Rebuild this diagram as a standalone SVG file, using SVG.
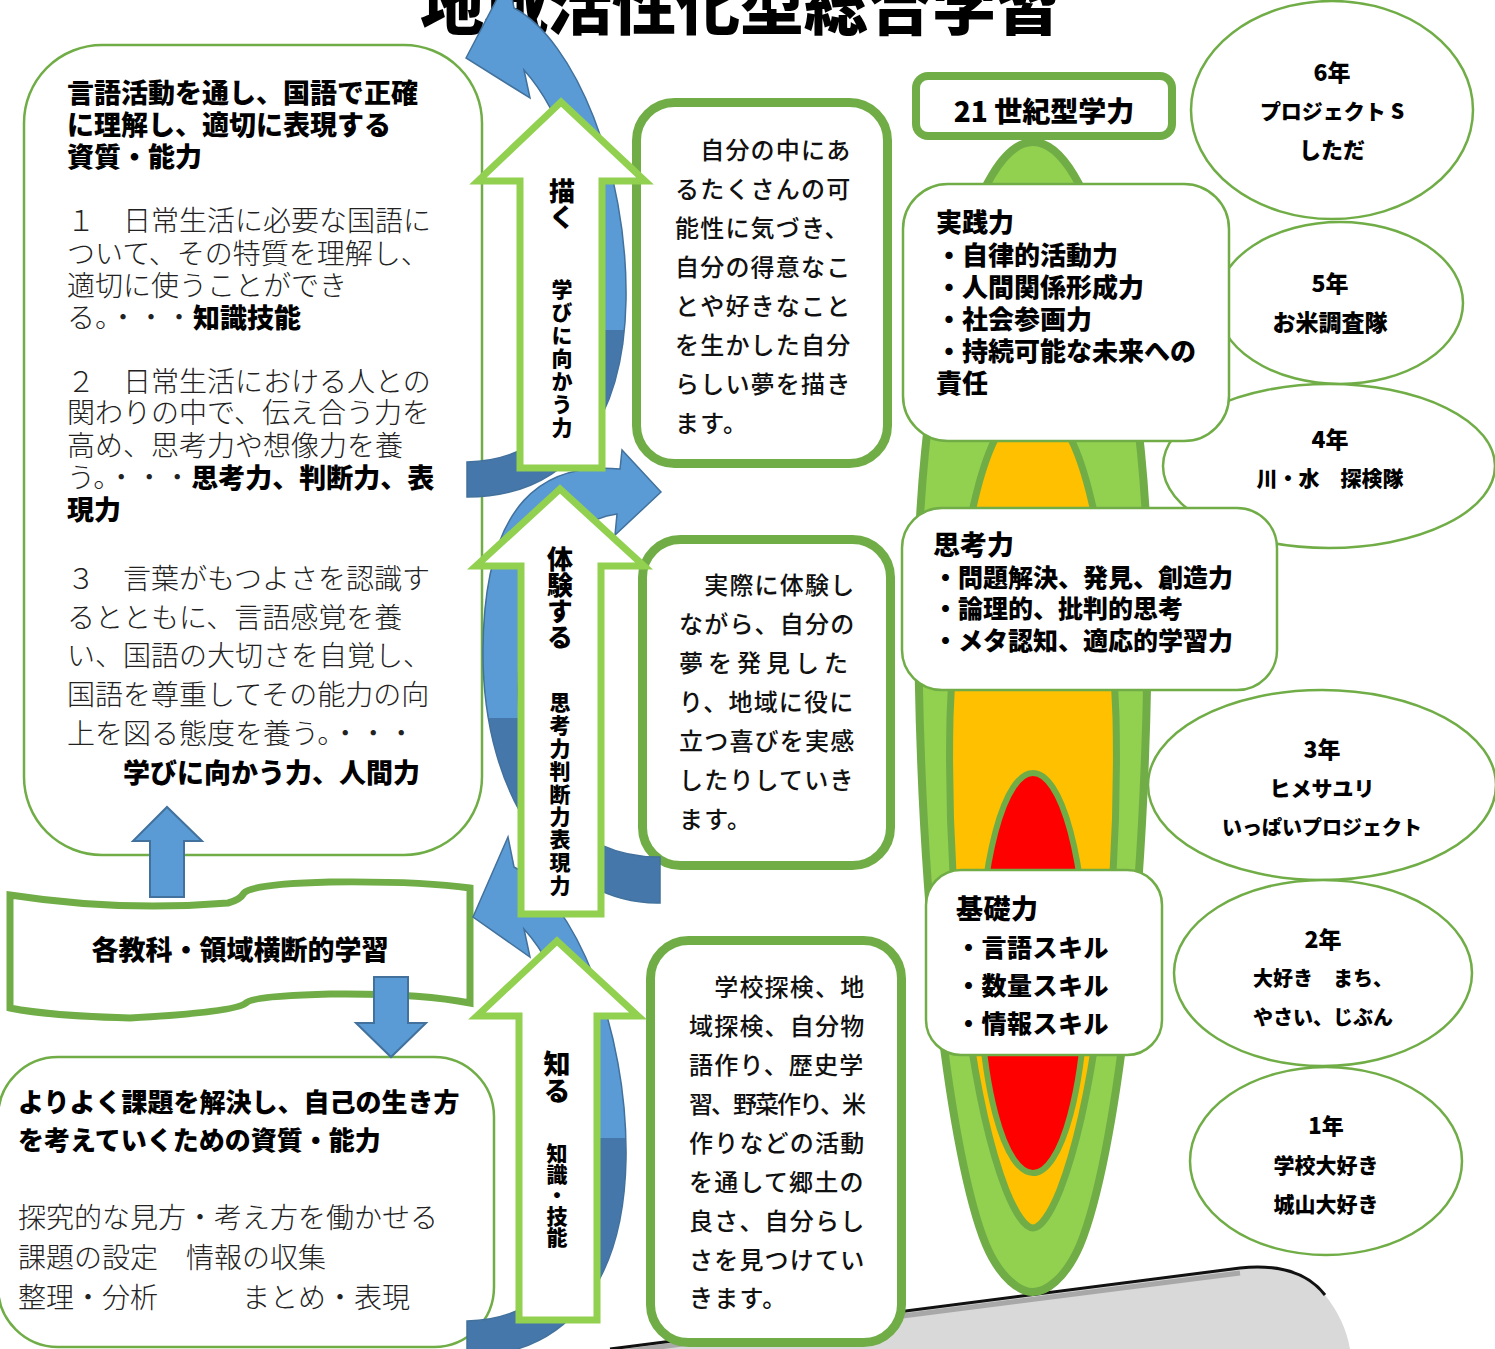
<svg xmlns="http://www.w3.org/2000/svg" width="1495" height="1349" viewBox="0 0 1495 1349">
<style>
.pop{font-family:"Noto Sans CJK JP","Noto Sans CJK SC",sans-serif;font-weight:900;fill:#000}
.min{font-family:"Noto Sans CJK JP","Noto Sans CJK SC",sans-serif;font-weight:300;fill:#222}
.goth{font-family:"Noto Sans CJK JP","Noto Sans CJK SC",sans-serif;font-weight:500;fill:#111}
.thin{fill:#fff;stroke:#70AD47;stroke-width:2.5}
.thick{fill:#fff;stroke:#70AD47;stroke-width:9}
.garrow{fill:#fff;stroke:#92D050;stroke-width:7;stroke-linejoin:miter}
.barrow{fill:#5B9BD5;stroke:#41719C;stroke-width:2}
.arc{stroke:#41719C;stroke-width:1.5}
.vt{writing-mode:vertical-rl}
</style>
<defs>
<linearGradient id="gA" gradientUnits="userSpaceOnUse" x1="0" y1="0" x2="0" y2="500">
<stop offset="0" stop-color="#5B9BD5"/><stop offset="0.66" stop-color="#5B9BD5"/><stop offset="0.66" stop-color="#4677AA"/><stop offset="1" stop-color="#4677AA"/>
</linearGradient>
<linearGradient id="gB" gradientUnits="userSpaceOnUse" x1="0" y1="450" x2="0" y2="905">
<stop offset="0" stop-color="#5B9BD5"/><stop offset="0.59" stop-color="#5B9BD5"/><stop offset="0.59" stop-color="#4677AA"/><stop offset="1" stop-color="#4677AA"/>
</linearGradient>
<linearGradient id="gC" gradientUnits="userSpaceOnUse" x1="0" y1="837" x2="0" y2="1356">
<stop offset="0" stop-color="#5B9BD5"/><stop offset="0.58" stop-color="#5B9BD5"/><stop offset="0.58" stop-color="#4677AA"/><stop offset="1" stop-color="#4677AA"/>
</linearGradient>
<linearGradient id="gS" x1="0" y1="0" x2="0" y2="1">
<stop offset="0" stop-color="#111"/><stop offset="0.12" stop-color="#9a9a9a"/><stop offset="0.3" stop-color="#d9d9d9"/><stop offset="1" stop-color="#d9d9d9"/>
</linearGradient>
</defs>

<!-- bottom slab -->
<g id="slab">
<path d="M600,1349 L610,1349 L1240,1268 Q1300,1262 1325,1295 Q1345,1320 1350,1349 Z" fill="#d9d9d9"/>
<path d="M610,1349 L1240,1268 Q1300,1262 1325,1295" fill="none" stroke="#111" stroke-width="3"/>
<path d="M612,1353 L1240,1273" fill="none" stroke="#777" stroke-width="5" opacity="0.5"/>
</g>

<!-- title -->
<g id="title">
<text class="pop" x="740" y="29" font-size="64" text-anchor="middle">地域活性化型総合学習</text>
</g>

<!-- left top box -->
<g id="box-kokugo">
<rect class="thin" x="24" y="45" width="458" height="810" rx="78"/>
<text class="pop" font-size="27"><tspan x="67" y="103">言語活動を通し、国語で正確</tspan><tspan x="67" y="135">に理解し、適切に表現する</tspan><tspan x="67" y="167">資質・能力</tspan></text>
<text class="min" font-size="28">
<tspan x="67" y="231">１　日常生活に必要な国語に</tspan>
<tspan x="67" y="264">ついて、その特質を理解し、</tspan>
<tspan x="67" y="296">適切に使うことができ</tspan>
<tspan x="67" y="328">る。・・・<tspan class="pop" font-size="27">知識技能</tspan></tspan>
<tspan x="67" y="392">２　日常生活における人との</tspan>
<tspan x="67" y="423">関わりの中で、伝え合う力を</tspan>
<tspan x="67" y="456">高め、思考力や想像力を養</tspan>
<tspan x="67" y="488">う。・・・<tspan class="pop" font-size="27">思考力、判断力、表</tspan></tspan>
<tspan class="pop" font-size="27" x="67" y="520">現力</tspan>
<tspan x="67" y="589">３　言葉がもつよさを認識す</tspan>
<tspan x="67" y="628">るとともに、言語感覚を養</tspan>
<tspan x="67" y="666">い、国語の大切さを自覚し、</tspan>
<tspan x="67" y="705">国語を尊重してその能力の向</tspan>
<tspan x="67" y="744">上を図る態度を養う。・・・</tspan>
<tspan class="pop" font-size="27" x="123" y="783">学びに向かう力、人間力</tspan>
</text>
</g>

<!-- left bottom box -->
<g id="box-tankyu">
<rect class="thin" x="-2" y="1057" width="496" height="290" rx="60"/>
<text class="pop" font-size="26"><tspan x="18" y="1112">よりよく課題を解決し、自己の生き方</tspan><tspan x="18" y="1150">を考えていくための資質・能力</tspan></text>
<text class="min" font-size="28"><tspan x="18" y="1228">探究的な見方・考え方を働かせる</tspan><tspan x="18" y="1268">課題の設定　情報の収集</tspan><tspan x="18" y="1308">整理・分析　　　まとめ・表現</tspan></text>
</g>

<!-- banner -->
<g id="banner">
<path d="M10,895 Q120,912 228,903 Q240,900 244,893 Q252,884 330,882 Q420,881 470,888 L470,1003 Q420,993 330,994 Q252,996 246,1003 Q236,1012 130,1018 Q50,1016 10,1008 Z" fill="#fff" stroke="#70AD47" stroke-width="7"/>
<text class="pop" x="240" y="960" font-size="27" text-anchor="middle">各教科・領域横断的学習</text>
</g>

<!-- connectors -->
<g id="connectors">
<polygon class="barrow" points="150,897 150,841 133,841 167,807 202,841 184,841 184,897"/>
<polygon class="barrow" points="374,977 408,977 408,1023 426,1023 391,1057 356,1023 374,1023"/>
</g>

<!-- middle text boxes -->
<g id="box-egaku">
<rect class="thick" x="636.5" y="102.5" width="251" height="361" rx="38"/>
<text class="goth" font-size="24" letter-spacing="1.2">
<tspan x="675" y="159">　自分の中にあ</tspan><tspan x="675" y="198">るたくさんの可</tspan><tspan x="675" y="237">能性に気づき、</tspan><tspan x="675" y="276">自分の得意なこ</tspan><tspan x="675" y="315">とや好きなこと</tspan><tspan x="675" y="354">を生かした自分</tspan><tspan x="675" y="393">らしい夢を描き</tspan><tspan x="675" y="432">ます。</tspan>
</text>
</g>
<g id="box-taiken">
<rect class="thick" x="642.5" y="539.5" width="248" height="326" rx="38"/>
<text class="goth" font-size="24" letter-spacing="1.2">
<tspan x="679" y="594">　実際に体験し</tspan><tspan x="679" y="633">ながら、自分の</tspan><tspan x="679" y="672" letter-spacing="5">夢を発見した</tspan><tspan x="679" y="711">り、地域に役に</tspan><tspan x="679" y="750">立つ喜びを実感</tspan><tspan x="679" y="789">したりしていき</tspan><tspan x="679" y="828">ます。</tspan>
</text>
</g>
<g id="box-shiru">
<rect class="thick" x="650.5" y="940.5" width="251" height="402" rx="38"/>
<text class="goth" font-size="24" letter-spacing="1.2">
<tspan x="689" y="996">　学校探検、地</tspan><tspan x="689" y="1035">域探検、自分物</tspan><tspan x="689" y="1074">語作り、歴史学</tspan><tspan x="689" y="1113" letter-spacing="-2">習、野菜作り、米</tspan><tspan x="689" y="1152">作りなどの活動</tspan><tspan x="689" y="1191">を通して郷土の</tspan><tspan x="689" y="1230">良さ、自分らし</tspan><tspan x="689" y="1269">さを見つけてい</tspan><tspan x="689" y="1307">きます。</tspan>
</text>
</g>

<!-- curved blue arrows -->
<g id="cycle-arrows">
<path class="arc" fill="url(#gA)" d="M466,58 L508,-22 L514,8 C575,40 628,170 626,300 C624,420 570,497 467,497 L467,462 C548,460 592,400 592,300 C592,190 560,110 524,70 L530,98 Z"/>
<path class="arc" fill="url(#gB)" d="M661,492 L622,450 L620,469 C545,462 484,500 483,650 C482,800 560,905 660,903 L660,857 C575,858 518,790 518,690 C518,600 560,520 617,514 L615,535 Z"/>
<path class="arc" fill="url(#gC)" d="M473,917 L508,837 L514,867 C575,899 628,1029 626,1159 C624,1279 570,1356 467,1356 L467,1321 C548,1319 592,1259 592,1159 C592,1049 560,969 524,929 L530,957 Z"/>
</g>

<!-- green up arrows -->
<g id="arrow-egaku">
<polygon class="garrow" points="561,102 645,181 602,181 602,468 520,468 520,181 478,181"/>
<text class="pop vt" x="562" y="178" font-size="26">描く</text>
<text class="pop vt" x="562" y="279" font-size="21" letter-spacing="2">学びに向かう力</text>
</g>
<g id="arrow-taiken">
<polygon class="garrow" points="560,489 644,566 601,566 601,914 521,914 521,566 476,566"/>
<text class="pop vt" x="560" y="546" font-size="26">体験する</text>
<text class="pop vt" x="560" y="692" font-size="21" letter-spacing="1.8">思考力判断力表現力</text>
</g>
<g id="arrow-shiru">
<polygon class="garrow" points="557,941 638,1016 597,1016 597,1320 519,1320 519,1016 477,1016"/>
<text class="pop vt" x="557" y="1050" font-size="27">知る</text>
<text class="pop vt" x="557" y="1143" font-size="21">知識・技能</text>
</g>

<!-- right side -->
<g id="competency-pill">
<path d="M1033,142 C1090,142 1140,330 1148,560 C1150,900 1115,1160 1080,1245 C1065,1280 1045,1292 1033,1292 C1021,1292 1001,1280 986,1245 C951,1160 916,900 918,560 C926,330 976,142 1033,142 Z" fill="#92D050" stroke="#70AD47" stroke-width="8"/>
<path d="M1033,405 C1085,405 1110,560 1116,717 C1120,900 1095,1100 1060,1190 C1050,1215 1040,1228 1033,1228 C1026,1228 1016,1215 1006,1190 C971,1100 946,900 950,717 C956,560 981,405 1033,405 Z" fill="#FFC000" stroke="#70AD47" stroke-width="7"/>
<ellipse cx="1033" cy="973" rx="53" ry="200" fill="#FF0000" stroke="#70AD47" stroke-width="6"/>
</g>

<g id="grade6"><ellipse class="thin" cx="1332" cy="110" rx="141" ry="109"/>
<text class="pop" font-size="23" text-anchor="middle"><tspan x="1332" y="81">6年</tspan><tspan x="1332" y="119" font-size="21">プロジェクト S</tspan><tspan x="1332" y="158" font-size="22">しただ</tspan></text></g>
<g id="grade5"><ellipse class="thin" cx="1340" cy="303" rx="123" ry="81"/>
<text class="pop" font-size="23" text-anchor="middle"><tspan x="1330" y="292">5年</tspan><tspan x="1330" y="331">お米調査隊</tspan></text></g>
<g id="grade4"><ellipse class="thin" cx="1329" cy="466" rx="166" ry="82"/>
<text class="pop" font-size="23" text-anchor="middle"><tspan x="1330" y="448">4年</tspan><tspan x="1330" y="486" font-size="21">川・水　探検隊</tspan></text></g>
<g id="grade3"><ellipse class="thin" cx="1322" cy="785" rx="174" ry="95"/>
<text class="pop" font-size="23" text-anchor="middle"><tspan x="1322" y="758">3年</tspan><tspan x="1322" y="796" font-size="21">ヒメサユリ</tspan><tspan x="1322" y="835" font-size="20">いっぱいプロジェクト</tspan></text></g>
<g id="grade2"><ellipse class="thin" cx="1323" cy="973" rx="149" ry="93"/>
<text class="pop" font-size="23" text-anchor="middle"><tspan x="1323" y="948">2年</tspan><tspan x="1323" y="986" font-size="20">大好き　まち、</tspan><tspan x="1323" y="1025" font-size="20">やさい、じぶん</tspan></text></g>
<g id="grade1"><ellipse class="thin" cx="1326" cy="1161" rx="136" ry="94"/>
<text class="pop" font-size="22" text-anchor="middle"><tspan x="1326" y="1134">1年</tspan><tspan x="1326" y="1173" font-size="21">学校大好き</tspan><tspan x="1326" y="1212" font-size="21">城山大好き</tspan></text></g>

<g id="box-21c">
<rect x="916" y="76" width="256" height="60" rx="12" fill="#fff" stroke="#70AD47" stroke-width="8"/>
<text class="pop" x="1044" y="122" font-size="28" text-anchor="middle">21 世紀型学力</text>
</g>
<g id="box-jissen">
<rect class="thin" x="903" y="184" width="326" height="257" rx="45"/>
<text class="pop" font-size="26"><tspan x="936" y="232">実践力</tspan><tspan x="936" y="265">・自律的活動力</tspan><tspan x="936" y="297">・人間関係形成力</tspan><tspan x="936" y="329">・社会参画力</tspan><tspan x="936" y="361">・持続可能な未来への</tspan><tspan x="936" y="393">責任</tspan></text>
</g>
<g id="box-shikou">
<rect class="thin" x="902" y="508" width="375" height="182" rx="40"/>
<text class="pop" font-size="25"><tspan x="933" y="555" font-size="27">思考力</tspan><tspan x="933" y="587">・問題解決、発見、創造力</tspan><tspan x="933" y="618">・論理的、批判的思考</tspan><tspan x="933" y="650">・メタ認知、適応的学習力</tspan></text>
</g>
<g id="box-kiso">
<rect class="thin" x="926" y="870" width="236" height="185" rx="35"/>
<text class="pop" font-size="25" letter-spacing="0.5"><tspan x="956" y="919" font-size="27">基礎力</tspan><tspan x="956" y="957">・言語スキル</tspan><tspan x="956" y="995">・数量スキル</tspan><tspan x="956" y="1033">・情報スキル</tspan></text>
</g>
</svg>
